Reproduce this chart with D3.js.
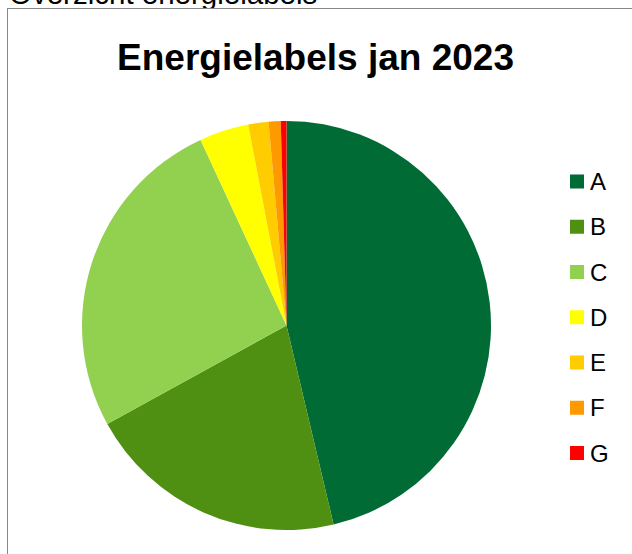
<!DOCTYPE html>
<html>
<head>
<meta charset="utf-8">
<script src="https://cdn.jsdelivr.net/npm/d3@7"></script>
<style>
  body { margin: 0; background: #fff; }
  svg { display: block; }
  text { font-family: "Liberation Sans", Arial, sans-serif; }
</style>
</head>
<body>
<svg id="chart" width="632" height="554"></svg>
<script>
// energielabels jan 2023, share per label
var labels = ['A', 'B', 'C', 'D', 'E', 'F', 'G'];
var shares = [46.3, 20.7, 26.1, 3.9, 1.6, 0.95, 0.45];
var colors = ['#006b34', '#4f9012', '#92d050', '#ffff00', '#ffcc00', '#ff9900', '#ff0000'];

var width = 632, height = 554;
var cx = 286.5, cy = 325.5, radius = 204.5;

var svg = d3.select('#chart');

// sheet caption, cut off at the top like in the original
svg.append('text')
  .attr('x', 9)
  .attr('y', 4)
  .style('font-size', '29.5px')
  .style('fill', '#000')
  .text('Overzicht energielabels');

// chart frame
svg.append('rect')
  .attr('x', 7.5)
  .attr('y', 8.5)
  .attr('width', 700)
  .attr('height', 700)
  .style('fill', '#fff')
  .style('stroke', '#888')
  .style('stroke-width', 1);

svg.append('text')
  .attr('x', 315.5)
  .attr('y', 70)
  .attr('text-anchor', 'middle')
  .style('font-size', '37px')
  .style('font-weight', 'bold')
  .text('Energielabels jan 2023');

var data = labels.map(function (l, i) { return { label: l, value: shares[i], color: colors[i] }; });

var pie = d3.pie().sort(null).value(function (d) { return d.value; });
var arc = d3.arc().innerRadius(0).outerRadius(radius);

svg.append('g')
  .attr('transform', 'translate(' + cx + ',' + cy + ')')
  .selectAll('path').data(pie(data))
  .enter().append('path')
  .attr('d', arc)
  .style('fill', function (d) { return d.data.color; });

// legend
var ly = d3.scalePoint().domain(labels).range([181.5, 453]);
var legend = svg.append('g').selectAll('g').data(data)
  .enter().append('g')
  .attr('transform', function (d) { return 'translate(570,' + ly(d.label) + ')'; });

legend.append('rect')
  .attr('x', 0)
  .attr('y', -7)
  .attr('width', 14)
  .attr('height', 14)
  .style('fill', function (d) { return d.color; });

legend.append('text')
  .attr('x', 20)
  .attr('y', 8.5)
  .style('font-size', '24px')
  .text(function (d) { return d.label; });
</script>
</body>
</html>
